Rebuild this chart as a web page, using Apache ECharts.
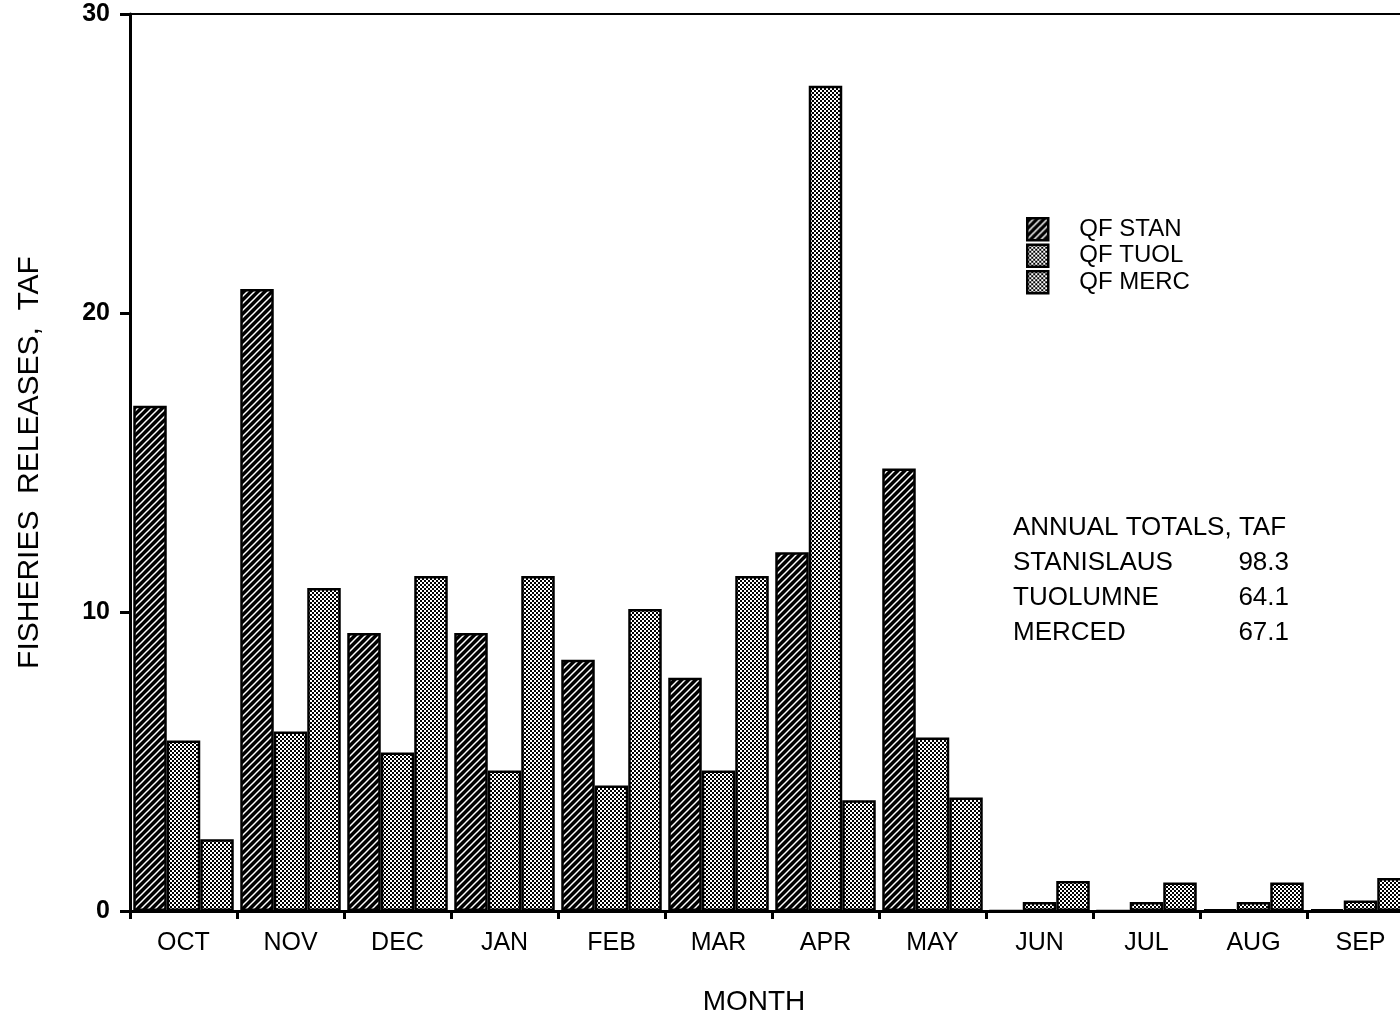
<!DOCTYPE html>
<html><head><meta charset="utf-8">
<script src="https://cdn.jsdelivr.net/npm/echarts@6/dist/echarts.min.js"></script>
<style>html,body{margin:0;padding:0;background:#fff}#c{width:1400px;height:1021px}</style>
</head><body><div id="c"></div>
<script>
const months = ['OCT','NOV','DEC','JAN','FEB','MAR','APR','MAY','JUN','JUL','AUG','SEP'];
const qfStan = [16.9, 20.8, 9.3, 9.3, 8.4, 7.8, 12.0, 14.8, 0, 0, 0.05, 0.05];
const qfTuol = [5.7, 6.0, 5.3, 4.7, 4.2, 4.7, 27.6, 5.8, 0.3, 0.3, 0.3, 0.35];
const qfMerc = [2.4, 10.8, 11.2, 11.2, 10.1, 11.2, 3.7, 3.8, 1.0, 0.95, 0.95, 1.1];
const yTicks = [0, 10, 20, 30];
const totalsLines = [['ANNUAL TOTALS, TAF',''],['STANISLAUS','98.3'],['TUOLUMNE','64.1'],['MERCED','67.1']];

function hatch(){
  const c=document.createElement('canvas');c.width=7;c.height=7;
  const g=c.getContext('2d');g.fillStyle='#000';g.fillRect(0,0,7,7);
  g.strokeStyle='#fff';g.lineWidth=1.5;
  g.beginPath();g.moveTo(-1,8);g.lineTo(8,-1);g.stroke();
  g.beginPath();g.moveTo(-1,1);g.lineTo(1,-1);g.stroke();
  g.beginPath();g.moveTo(6,8);g.lineTo(8,6);g.stroke();
  return {image:c,repeat:'repeat'};
}
function dots(k){
  const c=document.createElement('canvas');c.width=4;c.height=4;
  const g=c.getContext('2d');g.fillStyle='#fff';g.fillRect(0,0,4,4);
  g.fillStyle='#000';g.fillRect(0,0,2,2);g.fillRect(2,2,k,k);
  return {image:c,repeat:'repeat'};
}
const font='Liberation Sans';
const chart=echarts.init(document.getElementById('c'));
const graphics=[];
totalsLines.forEach((l,i)=>{
  graphics.push({type:'text',left:1013,top:515+i*35,style:{text:l[0],font:'26px "Liberation Sans"',fill:'#000'}});
  if(l[1]) graphics.push({type:'text',right:1400-1289,top:515+i*35,style:{text:l[1],font:'26px "Liberation Sans"',fill:'#000'}});
});
function mk(name,data,color){
  return {name,type:'bar',data,barWidth:33.5,barGap:'0%',
    itemStyle:{color,borderColor:'#000',borderWidth:2.5},animation:false};
}
chart.setOption({
  animation:false,
  textStyle:{fontFamily:font},
  grid:{left:130,top:14,right:-14,bottom:110,outerBoundsMode:'none',containLabel:false},
  legend:{orient:'vertical',left:1021,top:212,itemWidth:21,itemHeight:22,itemGap:2,icon:'rect',
    textStyle:{fontSize:24,color:'#000',fontFamily:font,padding:[0,0,0,26]},
    itemStyle:{borderColor:'#000',borderWidth:2.5},
    data:['QF STAN','QF TUOL','QF MERC']},
  xAxis:[{type:'category',data:months,
    axisLine:{lineStyle:{color:'#000',width:3}},
    axisTick:{show:true,length:8,lineStyle:{color:'#000',width:3}},
    axisLabel:{color:'#000',fontSize:25,margin:20,fontFamily:font},
    name:'MONTH',nameLocation:'middle',nameGap:77,
    nameTextStyle:{fontSize:28,color:'#000',fontFamily:font,padding:[0,36,0,0]}},
    {type:'category',data:months,position:'top',axisLine:{lineStyle:{color:'#000',width:2}},axisTick:{show:false},axisLabel:{show:false}}],
  yAxis:{type:'value',min:0,max:30,interval:10,
    axisLine:{show:true,lineStyle:{color:'#000',width:3}},
    axisTick:{show:true,length:10,lineStyle:{color:'#000',width:3}},
    splitLine:{show:false},
    axisLabel:{color:'#000',fontSize:25,fontWeight:'bold',margin:20,fontFamily:font,
      formatter:v=>yTicks.includes(v)?String(v):''},
    name:'FISHERIES  RELEASES,  TAF',nameLocation:'middle',nameGap:85,
    nameTextStyle:{fontSize:30,color:'#000',fontFamily:font}},
  series:[mk('QF STAN',qfStan,hatch()),mk('QF TUOL',qfTuol,dots(2)),mk('QF MERC',qfMerc,dots(2))],
  graphic:graphics
});
</script></body></html>
